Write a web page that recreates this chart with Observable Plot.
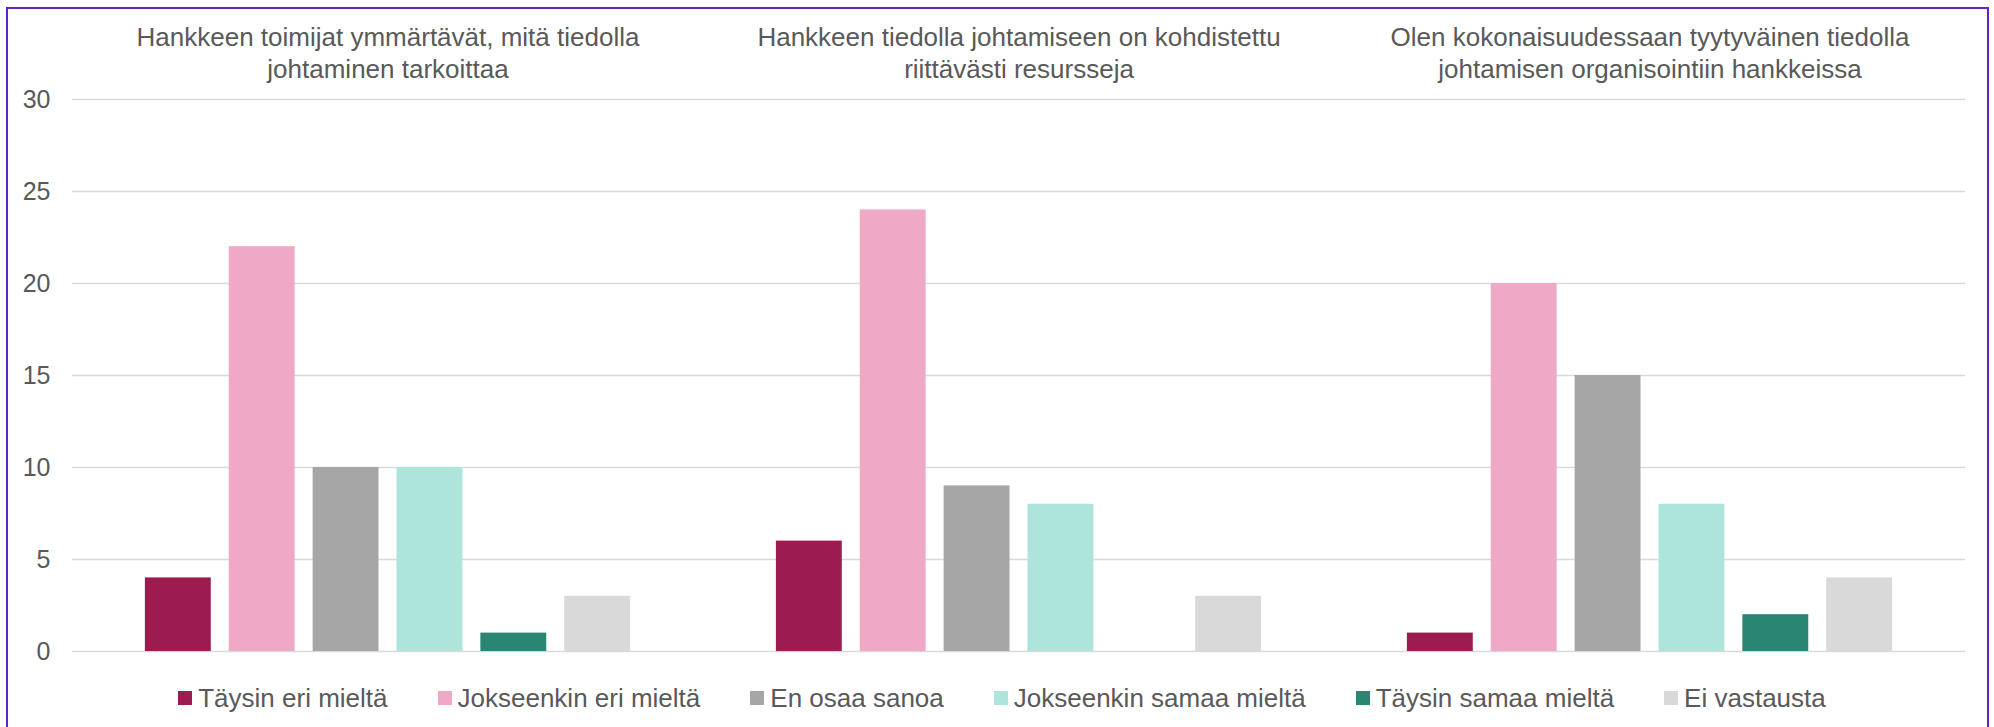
<!DOCTYPE html>
<html>
<head>
<meta charset="utf-8">
<script src="https://cdn.jsdelivr.net/npm/d3@7"></script>
<script src="https://cdn.jsdelivr.net/npm/@observablehq/plot@0.6"></script>
<style>
  html, body { margin: 0; padding: 0; background: #fff; }
  body { width: 1994px; height: 727px; overflow: hidden; position: relative; font-family: "Liberation Sans", Arial, sans-serif; }
  #frame { position: absolute; left: 6px; top: 7px; width: 1979px; height: 760px; border: 2px solid #6a1fbf; pointer-events: none; }
  #chart svg { display: block; }
  #legend { display: flex; justify-content: center; align-items: center; width: 1994px; margin-top: 18px; padding-left: 10px; box-sizing: border-box;
            font-size: 26px; line-height: 30px; color: #595959; }
  .item { display: flex; align-items: center; margin-right: 50px; }
  .item:last-child { margin-right: 0; }
  .sw { width: 14px; height: 14px; margin-right: 6px; }
</style>
</head>
<body>
<div id="chart"></div>
<div id="legend"></div>
<div id="frame"></div>
<script>
const groups = [
  "Hankkeen toimijat ymmärtävät, mitä tiedolla\njohtaminen tarkoittaa",
  "Hankkeen tiedolla johtamiseen on kohdistettu\nriittävästi resursseja",
  "Olen kokonaisuudessaan tyytyväinen tiedolla\njohtamisen organisointiin hankkeissa"
];
const series = ["Täysin eri mieltä", "Jokseenkin eri mieltä", "En osaa sanoa", "Jokseenkin samaa mieltä", "Täysin samaa mieltä", "Ei vastausta"];
const colors = ["#9c1c50", "#efa8c6", "#a6a6a6", "#aee5db", "#2a8673", "#d9d9d9"];
const values = [
  [4, 22, 10, 10, 1, 3],
  [6, 24, 9, 8, 0, 3],
  [1, 20, 15, 8, 2, 4]
];
const yTicks = [0, 5, 10, 15, 20, 25, 30];

const data = [];
groups.forEach((g, gi) => series.forEach((s, si) => data.push({group: g, series: s, value: values[gi][si]})));

const chart = Plot.plot({
  width: 1994,
  height: 665,
  marginLeft: 72,
  marginRight: 29,
  marginTop: 99,
  marginBottom: 14,
  style: {fontFamily: "'Liberation Sans', Arial, sans-serif", color: "#595959", background: "transparent"},
  fx: {domain: groups, padding: 0, axis: null, round: false},
  x: {domain: series, paddingInner: 18 / 84, paddingOuter: 0.869, axis: null, round: false},
  y: {domain: [0, 30], axis: null},
  color: {domain: series, range: colors},
  marks: [
    Plot.ruleY(yTicks, {stroke: "#d9d9d9", strokeWidth: 1.5}),
    Plot.axisY({ticks: yTicks, tickSize: 0, tickPadding: 22, fontSize: 25, fill: "#595959", label: null}),
    Plot.barY(data, {fx: "group", x: "series", y: "value", fill: "series"}),
    Plot.text(groups, {fx: d => d, text: d => d, frameAnchor: "top", lineAnchor: "bottom", dy: -22, lineHeight: 1.23, fontSize: 26, fill: "#595959"})
  ]
});
document.getElementById("chart").appendChild(chart);

const legend = document.getElementById("legend");
series.forEach((s, i) => {
  const it = document.createElement("div");
  it.className = "item";
  const sw = document.createElement("span");
  sw.className = "sw";
  sw.style.background = colors[i];
  const tx = document.createElement("span");
  tx.textContent = s;
  it.appendChild(sw);
  it.appendChild(tx);
  legend.appendChild(it);
});
</script>
</body>
</html>
